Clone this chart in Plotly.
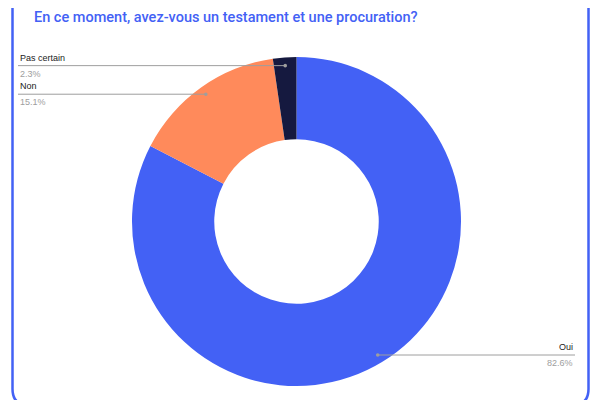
import math
import plotly.graph_objects as go

labels = ["Oui", "Non", "Pas certain"]
values = [82.6, 15.1, 2.3]
colors = ["#4361F5", "#FF8A5B", "#15193F"]
title = "En ce moment, avez-vous un testament et une procuration?"

# page has an 8px body margin, so the figure is smaller and positions are offset
W, H = 584, 392
OFF = 8
cx, cy, R = 296.5 - OFF, 221.5 - OFF, 164.5


def px(x):
    return x / W


def py(y):
    return 1 - y / H


fig = go.Figure(
    go.Pie(
        labels=labels,
        values=values,
        marker=dict(colors=colors, line=dict(width=0)),
        hole=0.5,
        sort=False,
        direction="clockwise",
        rotation=0,
        textinfo="none",
        hoverinfo="label+percent",
        domain=dict(x=[px(cx - R), px(cx + R)], y=[py(cy + R), py(cy - R)]),
    )
)

shapes = []
annotations = []

# leader lines from each slice's mid angle
total = sum(values)
cum = 0
for lab, val in zip(labels, values):
    mid = (cum + val / 2) / total * 2 * math.pi
    cum += val
    dx = cx + 0.95 * R * math.sin(mid)
    dy = cy - 0.95 * R * math.cos(mid)
    left = math.sin(mid) < 0
    tx = (18 if left else 575) - OFF
    shapes.append(dict(type="line", xref="paper", yref="paper",
                       x0=px(dx), x1=px(tx), y0=py(dy), y1=py(dy),
                       line=dict(color="#9E9E9E", width=1)))
    shapes.append(dict(type="circle", xref="paper", yref="paper",
                       x0=px(dx - 1.8), x1=px(dx + 1.8), y0=py(dy + 1.8), y1=py(dy - 1.8),
                       fillcolor="#9E9E9E", line=dict(width=0)))
    anchor = "left" if left else "right"
    annotations.append(dict(x=px(tx), y=py(dy - 1), xref="paper", yref="paper",
                            text=lab, showarrow=False, xanchor=anchor, yanchor="bottom",
                            font=dict(size=9, color="#222222", family="Liberation Sans, Arial")))
    annotations.append(dict(x=px(tx), y=py(dy + 1), xref="paper", yref="paper",
                            text=f"{val:.1f}%", showarrow=False, xanchor=anchor, yanchor="top",
                            font=dict(size=9, color="#9E9E9E", family="Liberation Sans, Arial")))

# rounded card frame
x0, x1, y0, y1, r = 12.5 - OFF, 588.5 - OFF, -10 - OFF, 405 - OFF, 16
path = (f"M {px(x0 + r)},{py(y0)} L {px(x1 - r)},{py(y0)} "
        f"Q {px(x1)},{py(y0)} {px(x1)},{py(y0 + r)} L {px(x1)},{py(y1 - r)} "
        f"Q {px(x1)},{py(y1)} {px(x1 - r)},{py(y1)} L {px(x0 + r)},{py(y1)} "
        f"Q {px(x0)},{py(y1)} {px(x0)},{py(y1 - r)} L {px(x0)},{py(y0 + r)} "
        f"Q {px(x0)},{py(y0)} {px(x0 + r)},{py(y0)} Z")
shapes.append(dict(type="path", xref="paper", yref="paper", path=path,
                   line=dict(color="#4361F5", width=2.5)))

annotations.append(dict(x=px(32 - OFF), y=py(17 - OFF), xref="paper", yref="paper", text=title,
                        showarrow=False, xanchor="left", yanchor="middle",
                        font=dict(size=14.5, color="#4361F5", family="Roboto", weight=500)))

fig.update_layout(
    width=W, height=H,
    margin=dict(l=0, r=0, t=0, b=0),
    paper_bgcolor="white",
    showlegend=False,
    shapes=shapes,
    annotations=annotations,
)

fig.write_html("out.html")
